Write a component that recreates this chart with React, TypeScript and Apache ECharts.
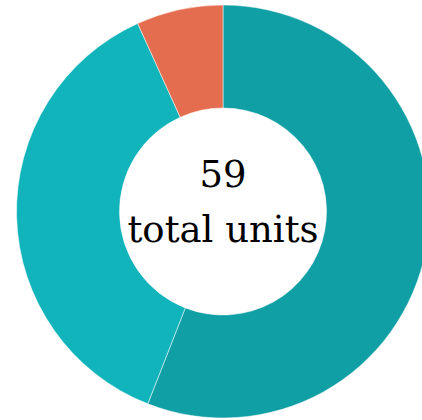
import React, { useEffect, useRef } from "react";
import * as echarts from "echarts";

const categories = ["A", "B", "C"];
const values = [33, 22, 4];
const colors = ["#109FA5", "#12B4BB", "#E56D4F"];
const totalLabel = "59";
const unitLabel = "total units";

export default function App() {
  const ref = useRef<HTMLDivElement>(null);
  useEffect(() => {
    if (!ref.current) return;
    const chart = echarts.init(ref.current, undefined, { renderer: "svg" });
    chart.setOption({
      animation: false,
      graphic: [
        {
          type: "text",
          x: 223,
          y: 174,
          style: {
            text: totalLabel,
            font: '37px "DejaVu Serif"',
            fill: "#000",
            align: "center",
            verticalAlign: "middle",
          },
          z: 10,
        },
        {
          type: "text",
          x: 223,
          y: 229,
          style: {
            text: unitLabel,
            font: '37px "DejaVu Serif"',
            fill: "#000",
            align: "center",
            verticalAlign: "middle",
          },
          z: 10,
        },
      ],
      series: [
        {
          type: "pie",
          center: [223, 211.5],
          radius: [103.5, 206.5],
          startAngle: 90,
          clockwise: true,
          label: { show: false },
          labelLine: { show: false },
          emphasis: { disabled: true },
          itemStyle: { borderColor: "#ffffff", borderWidth: 0.5 },
          data: categories.map((c, i) => ({
            name: c,
            value: values[i],
            itemStyle: { color: colors[i] },
          })),
        },
      ],
    });
    return () => chart.dispose();
  }, []);
  return (
    <div
      ref={ref}
      style={{ position: "absolute", left: 0, top: 0, width: 422, height: 420 }}
    />
  );
}
